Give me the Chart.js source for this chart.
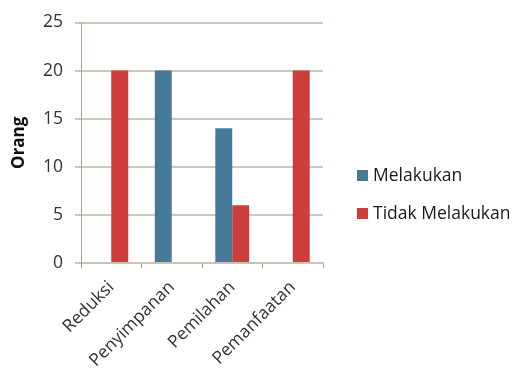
<!DOCTYPE html>
<html><head><meta charset="utf-8">
<script src="https://cdn.jsdelivr.net/npm/chart.js@4"></script>
<style>html,body{margin:0;padding:0;background:#fff}#w{width:516px;height:371px}</style>
</head><body><div id="w"><canvas id="c" width="516" height="371"></canvas></div>
<script>
const categories = ["Reduksi", "Penyimpanan", "Pemilahan", "Pemanfaatan"];
const melakukan = [0, 20, 14, 0];
const tidakMelakukan = [20, 0, 6, 20];
const seriesNames = ["Melakukan", "Tidak Melakukan"];
const yTicks = [0, 5, 10, 15, 20, 25];

const FONT = "'Open Sans', sans-serif";
const legendPlugin = {
  id: 'customLegend',
  afterDraw(chart) {
    const ctx = chart.ctx;
    ctx.save();
    ctx.font = "17.5px " + FONT;
    ctx.textBaseline = 'middle';
    const ys = [175, 213];
    chart.data.datasets.forEach((ds, i) => {
      ctx.fillStyle = ds.backgroundColor;
      ctx.fillRect(357, ys[i] - 5, 11, 11);
      ctx.fillStyle = '#1a1a1a';
      ctx.fillText(ds.label, 373, ys[i] + 1);
    });
    ctx.restore();
  }
};

new Chart(document.getElementById('c'), {
  type: 'bar',
  data: {
    labels: categories,
    datasets: [
      { label: seriesNames[0], data: melakukan, backgroundColor: '#467a98' },
      { label: seriesNames[1], data: tidakMelakukan, backgroundColor: '#cc3d3b' }
    ]
  },
  options: {
    responsive: false,
    animation: false,
    layout: { padding: { top: 20, right: 193, left: 0, bottom: 0 } },
    plugins: { legend: { display: false }, tooltip: { enabled: false } },
    datasets: { bar: { categoryPercentage: 0.56, barPercentage: 1 } },
    scales: {
      x: {
        grid: { display: true, drawOnChartArea: false, offset: true, color: '#a9a48a', tickLength: 5, lineWidth: 1 },
        border: { color: '#c9c5b0', width: 2 },
        ticks: { color: '#333', font: { family: FONT, size: 17.5 }, maxRotation: 45, minRotation: 45, padding: 9 },
        afterFit(s) { s.height = 108; }
      },
      y: {
        min: 0, max: 25,
        afterBuildTicks(s) { s.ticks = yTicks.map(v => ({ value: v })); },
        grid: { color: '#cdc9b4', lineWidth: 2, tickLength: 6 },
        border: { color: '#a9a48a', width: 1 },
        ticks: { color: '#333', font: { family: FONT, size: 17.5 }, padding: 12 },
        title: { display: true, text: 'Orang', color: '#111', font: { family: FONT, size: 17, weight: 'bold' }, padding: { top: 9, bottom: 0 } },
        afterFit(s) { s.width = 81; }
      }
    }
  },
  plugins: [legendPlugin]
});
</script></body></html>
